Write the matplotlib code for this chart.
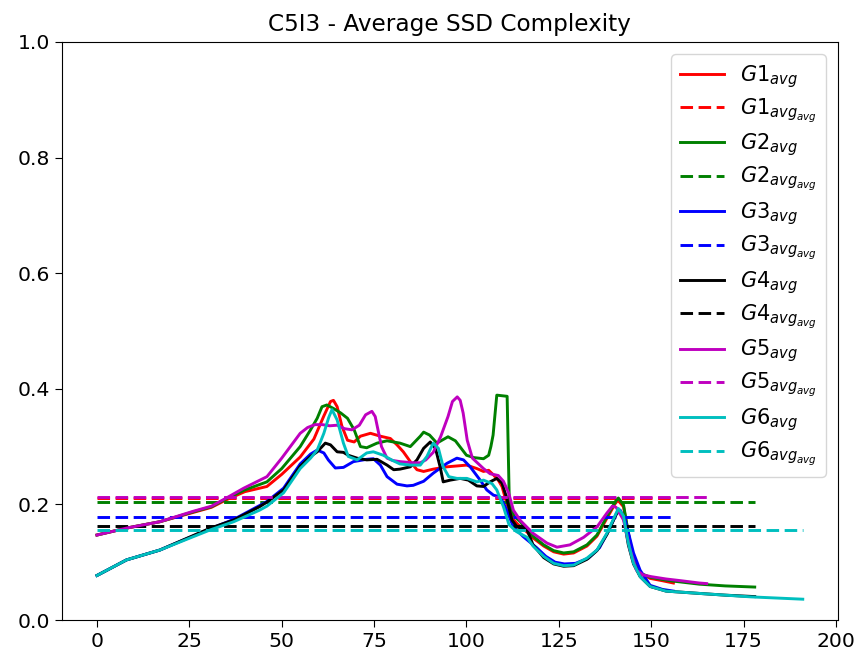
import matplotlib
matplotlib.use("Agg")
import matplotlib.pyplot as plt

# Per-group average SSD complexity over time (x = step index)
g1_x = [0, 8, 17, 26, 31, 35, 40, 46, 50, 55, 58.7, 61.4, 63.2, 64, 65, 66.3, 67.8, 69.6, 71.3, 74, 76.7,
        79.4, 81.2, 82.9, 84.8, 86.6, 88.4, 91, 94.7, 98.3, 100, 102.8, 104.6, 106, 107.3, 108.6, 109.6,
        111, 112.5, 114, 116.4, 118, 120.9, 123.6, 126.3, 129, 132.6, 135.3, 138, 140.3, 141, 142.5,
        143.8, 145.2, 147, 149.7, 153, 156]
g1_y = [0.147, 0.159, 0.170, 0.186, 0.195, 0.208, 0.222, 0.231, 0.252, 0.282, 0.313, 0.353, 0.378, 0.380,
        0.369, 0.335, 0.311, 0.308, 0.318, 0.323, 0.318, 0.314, 0.303, 0.291, 0.274, 0.260, 0.257, 0.261,
        0.265, 0.267, 0.268, 0.262, 0.257, 0.259, 0.251, 0.242, 0.231, 0.200, 0.175, 0.165, 0.152, 0.142,
        0.128, 0.118, 0.114, 0.116, 0.128, 0.145, 0.176, 0.202, 0.207, 0.196, 0.150, 0.104, 0.081, 0.072,
        0.068, 0.064]

g2_x = [0, 8, 17, 26, 31, 35, 40, 46, 50, 55, 57.8, 59.6, 60.9, 62.2, 64, 66, 67.8, 69.6, 71.3, 73, 75.8,
        78.5, 82, 84.8, 87.5, 88.4, 90, 92, 95, 97, 100, 102, 104.6, 106, 106.6, 107.2, 108.2, 111, 111.6,
        113, 114.6, 116.4, 118, 120.9, 123.6, 126.3, 129, 132.6, 135.3, 138, 140.3, 141.1, 142.5, 143.8,
        145.2, 147, 149.7, 155, 163, 170, 178]
g2_y = [0.147, 0.159, 0.170, 0.187, 0.196, 0.210, 0.225, 0.239, 0.262, 0.300, 0.329, 0.349, 0.369, 0.372,
        0.366, 0.358, 0.349, 0.329, 0.300, 0.298, 0.306, 0.310, 0.306, 0.300, 0.318, 0.325, 0.320, 0.306,
        0.317, 0.310, 0.285, 0.281, 0.279, 0.285, 0.300, 0.320, 0.389, 0.387, 0.200, 0.179, 0.170, 0.155,
        0.145, 0.130, 0.120, 0.116, 0.118, 0.130, 0.147, 0.179, 0.205, 0.211, 0.199, 0.150, 0.104, 0.081,
        0.074, 0.068, 0.062, 0.059, 0.057]

g3_x = [0, 8, 17, 30.7, 37, 44, 46, 50.5, 55, 57.8, 59.6, 61.4, 62.6, 64.5, 66.7, 69.4, 73, 74.8, 76.7,
        78.5, 81.2, 83.9, 85.6, 88.4, 91, 94.7, 97.4, 99.2, 101, 103.7, 105.5, 107.3, 109.1, 110.5, 112.7,
        115.4, 119, 121.5, 124, 126.5, 129.5, 133, 136, 138.5, 140.5, 141.6, 143, 145.2, 147, 149.7, 153,
        156]
g3_y = [0.077, 0.104, 0.121, 0.158, 0.174, 0.198, 0.205, 0.228, 0.270, 0.287, 0.294, 0.289, 0.277, 0.263,
        0.264, 0.274, 0.278, 0.279, 0.268, 0.248, 0.235, 0.232, 0.233, 0.240, 0.254, 0.271, 0.280, 0.277,
        0.265, 0.242, 0.225, 0.216, 0.213, 0.196, 0.161, 0.144, 0.125, 0.110, 0.100, 0.097, 0.098, 0.107,
        0.125, 0.155, 0.183, 0.190, 0.172, 0.116, 0.086, 0.060, 0.053, 0.050]

g4_x = [0, 8, 17, 30.7, 37, 44, 46, 50.5, 55, 57.8, 59.6, 61.8, 63.2, 65, 66.7, 68, 70.4, 73, 75.8, 78.5,
        80.3, 82, 84.8, 86.6, 88.4, 90.2, 91.6, 92.9, 93.7, 95.6, 98.3, 100.5, 102.8, 104.6, 106.4, 108.2,
        109.6, 110.8, 112.3, 113.7, 116.4, 118, 120.9, 123.6, 126.3, 129, 132.6, 135.3, 138, 140.3, 141.1,
        142.5, 143.8, 145.2, 147, 149.7, 154, 163, 170, 178]
g4_y = [0.077, 0.104, 0.121, 0.159, 0.173, 0.196, 0.204, 0.225, 0.266, 0.283, 0.291, 0.306, 0.303, 0.291,
        0.290, 0.285, 0.280, 0.277, 0.278, 0.268, 0.260, 0.261, 0.265, 0.277, 0.297, 0.308, 0.297, 0.264,
        0.239, 0.242, 0.245, 0.242, 0.232, 0.231, 0.239, 0.245, 0.237, 0.213, 0.173, 0.161, 0.156, 0.130,
        0.108, 0.097, 0.093, 0.094, 0.105, 0.120, 0.148, 0.180, 0.190, 0.178, 0.130, 0.097, 0.075, 0.058,
        0.050, 0.046, 0.043, 0.0405]

g5_x = [0, 8, 17, 26, 31, 35, 39.7, 46, 50, 55, 57, 59, 61, 63, 65, 67, 69, 71, 72.7, 74.4, 75.3, 77,
        78.5, 80, 82, 85.6, 87.5, 89, 91, 93, 95, 96.2, 97.5, 98.3, 99.1, 100.2, 101.6, 104.6, 106.4,
        108.6, 110, 111.4, 112.7, 114.6, 118, 121.8, 124.5, 128, 131.7, 135.3, 138, 139.5, 140.5, 142.5,
        144.3, 146, 147.8, 150, 154, 158, 163, 165]
g5_y = [0.147, 0.159, 0.170, 0.188, 0.197, 0.211, 0.228, 0.248, 0.280, 0.323, 0.333, 0.338, 0.338, 0.336,
        0.337, 0.331, 0.329, 0.337, 0.355, 0.361, 0.352, 0.300, 0.280, 0.276, 0.274, 0.272, 0.272, 0.277,
        0.290, 0.317, 0.352, 0.378, 0.386, 0.380, 0.358, 0.311, 0.280, 0.262, 0.253, 0.250, 0.240, 0.220,
        0.190, 0.172, 0.150, 0.133, 0.126, 0.130, 0.143, 0.161, 0.185, 0.197, 0.195, 0.173, 0.121, 0.086,
        0.078, 0.075, 0.071, 0.068, 0.064, 0.063]

g6_x = [0, 8, 17, 30.7, 37, 44, 46, 50.5, 55, 57.8, 59.6, 61.4, 62.7, 63.6, 65, 66.7, 68, 70.4, 73, 74.8,
        77.5, 80, 82, 84.8, 87.5, 89.3, 91, 92.4, 93.7, 95.2, 97.4, 100.1, 102.8, 104.6, 106.9, 108.2, 109,
        110, 111.5, 113.5, 116.4, 118, 120.9, 123.6, 126.3, 129, 132.6, 135.3, 138, 140.3, 141.1, 142.5,
        143.8, 145.2, 147, 149.7, 154, 163, 177, 191]
g6_y = [0.077, 0.104, 0.121, 0.156, 0.170, 0.190, 0.197, 0.220, 0.262, 0.280, 0.294, 0.323, 0.350, 0.364,
        0.346, 0.306, 0.283, 0.277, 0.289, 0.291, 0.285, 0.276, 0.270, 0.268, 0.268, 0.283, 0.306, 0.297,
        0.265, 0.248, 0.245, 0.245, 0.239, 0.242, 0.236, 0.225, 0.212, 0.196, 0.165, 0.153, 0.143, 0.128,
        0.110, 0.098, 0.094, 0.095, 0.107, 0.121, 0.150, 0.182, 0.193, 0.180, 0.133, 0.098, 0.075, 0.058,
        0.050, 0.046, 0.040, 0.036]

# Overall average of each group's curve
g_avg = [0.211, 0.204, 0.179, 0.163, 0.2125, 0.156]

group_names = ["G1", "G2", "G3", "G4", "G5", "G6"]
group_colors = ["r", "g", "b", "k", "m", "c"]
series_x = [g1_x, g2_x, g3_x, g4_x, g5_x, g6_x]
series_y = [g1_y, g2_y, g3_y, g4_y, g5_y, g6_y]

fig = plt.figure(figsize=(8.59, 6.6), dpi=100)
ax = fig.add_axes([0.0718, 0.0606, 0.9038, 0.8758])

lw = 2.1
for name, col, xs, ys, avg in zip(group_names, group_colors, series_x, series_y, g_avg):
    ax.plot(xs, ys, color=col, lw=lw, label=r"$%s_{avg}$" % name)
    ax.plot([xs[0], xs[-1]], [avg, avg], color=col, lw=lw, linestyle=(0, (4.3, 1.9)),
            label=r"$%s_{avg_{avg}}$" % name)

ax.set_ylim(0, 1.0)
ax.set_xticks([0, 25, 50, 75, 100, 125, 150, 175, 200])
ax.set_yticks([0.0, 0.2, 0.4, 0.6, 0.8, 1.0])
ax.tick_params(labelsize=14.7, length=5)
ax.set_title("C5I3 - Average SSD Complexity", fontsize=16.7, pad=8)
ax.legend(loc="upper right", fontsize=15, handlelength=2.1, labelspacing=0.33,
          borderaxespad=0.6, handletextpad=0.8)

fig.savefig("out.png", dpi=100)
